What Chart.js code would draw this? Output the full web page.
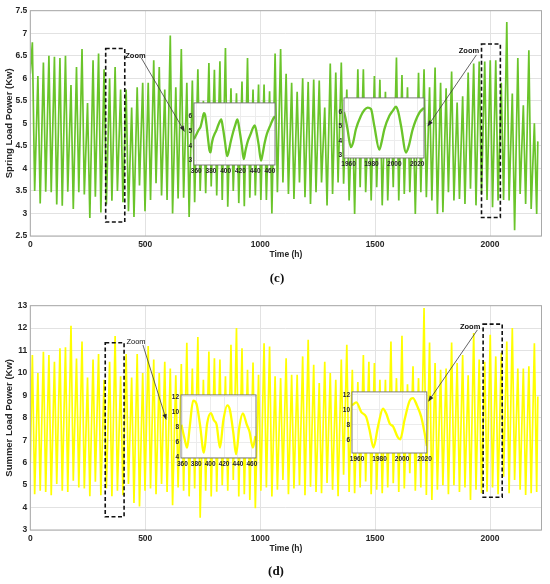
<!DOCTYPE html>
<html><head><meta charset="utf-8">
<script src="https://cdn.jsdelivr.net/npm/chart.js@4.4.0/dist/chart.umd.min.js"></script>
<style>
html,body{margin:0;padding:0;background:#fff;}
#wrap{position:relative;width:550px;height:584px;overflow:hidden;background:#fff;}
canvas{position:absolute;display:block;}
</style></head><body>
<div id="wrap">
<canvas id="springMain" width="550" height="290" style="left:0;top:0"></canvas>
<canvas id="summerMain" width="550" height="294" style="left:0;top:290px"></canvas>
<canvas id="springIn1"></canvas>
<canvas id="springIn2"></canvas>
<canvas id="summerIn1"></canvas>
<canvas id="summerIn2"></canvas>
</div>
<script>
// ---------------- DATA ----------------
const hourTicks = [0, 500, 1000, 1500, 2000];
const springTicks = [2.5, 3, 3.5, 4, 4.5, 5, 5.5, 6, 6.5, 7, 7.5];
const summerTicks = [3, 4, 5, 6, 7, 8, 9, 10, 11, 12, 13];

const peakHours = [9,33,57,81,105,129,153,177,201,225,249,273,297,321,345,369,393,417,441,465,489,513,537,561,585,609,633,657,681,705,729,753,777,801,825,849,873,897,921,945,969,993,1017,1041,1065,1089,1113,1137,1161,1185,1209,1233,1257,1281,1305,1329,1353,1377,1401,1425,1449,1473,1497,1521,1545,1569,1593,1617,1641,1665,1689,1713,1737,1761,1785,1809,1833,1857,1881,1905,1929,1953,1977,2001,2025,2049,2073,2097,2121,2145,2169,2193];
const troughHours = [19,43,67,91,115,139,163,187,211,235,259,283,307,331,355,379,403,427,451,475,499,523,547,571,595,619,643,667,691,715,739,763,787,811,835,859,883,907,931,955,979,1003,1027,1051,1075,1099,1123,1147,1171,1195,1219,1243,1267,1291,1315,1339,1363,1387,1411,1435,1459,1483,1507,1531,1555,1579,1603,1627,1651,1675,1699,1723,1747,1771,1795,1819,1843,1867,1891,1915,1939,1963,1987,2011,2035,2059,2083,2107,2131,2155,2179,2203];
const firstHour = 0, lastHour = 2208;

const springStart = 6.1, springEnd = 4.6;
const springPeaks = [6.8,6.05,6.35,6.5,6.48,6.45,6.5,5.85,6.25,6.65,
  5.45,6.4,6.55,6.2,6.0,6.25,5.75,5.75,5.35,5.8,
  5.9,5.9,6.4,6.25,5.75,6.95,5.8,6.65,5.9,5.95,
  6.2,5.5,6.34,6.19,6.38,6.67,5.78,5.67,5.93,6.45,
  5.75,5.86,5.86,5.71,6.55,6.65,6.1,5.9,5.7,6.0,
  5.92,5.97,5.95,5.35,6.33,6.13,6.35,5.75,5.4,6.2,
  6.2,5.5,6.05,5.97,5.7,5.5,6.46,6.07,5.8,5.4,
  6.12,6.2,5.8,6.24,5.9,5.78,6.15,5.46,5.6,6.13,
  6.33,6.37,6.37,6.4,6.4,5.9,7.25,5.66,6.45,5.4,
  6.62,5.0];
const springTroughs = [3.5,3.22,3.48,3.47,3.2,3.17,3.48,3.1,3.47,3.42,
  2.9,3.37,3.02,3.2,3.28,3.5,3.25,3.05,2.92,3.62,
  3.05,3.3,3.67,3.4,3.3,3.0,3.33,3.35,2.92,3.25,
  3.5,3.45,3.6,3.4,3.3,3.15,3.5,3.23,3.16,3.35,
  3.4,3.3,3.3,3.0,3.47,3.69,3.43,3.32,3.69,3.36,
  3.21,3.47,3.69,3.18,3.43,3.69,3.66,3.29,2.99,3.58,
  3.47,3.29,3.58,3.18,3.29,3.58,3.29,3.43,3.47,2.99,
  3.47,3.36,3.29,2.99,3.03,3.47,3.29,3.32,3.21,3.55,
  3.18,3.43,3.3,3.14,3.29,3.3,3.29,2.63,3.43,3.21,
  3.1,2.99];

const summerStart = 6.0, summerEnd = 8.95;
const summerPeaks = [10.8,10.0,10.95,10.8,10.5,11.1,11.15,12.1,10.65,11.4,
  9.8,10.6,10.85,9.7,10.5,11.65,9.85,10.85,9.8,10.85,
  10.0,11.2,10.6,10.0,10.5,10.2,9.9,10.4,11.35,10.2,
  11.6,9.7,10.96,10.66,10.6,9.85,11.26,12.0,11.1,10.14,
  10.47,9.92,11.33,11.18,9.85,9.77,10.66,9.92,9.92,10.74,
  11.48,10.37,9.55,10.5,10.0,9.7,10.6,11.26,10.14,9.6,
  10.8,10.5,10.45,9.7,9.7,11.4,9.77,11.66,9.5,10.3,
  9.77,12.9,11.36,10.45,10.14,10.2,11.36,10.45,10.8,9.9,
  11.78,10.6,10.5,11.7,10.74,10.9,11.4,12.0,10.2,10.2,
  10.3,11.33];
const summerTroughs = [4.6,4.75,4.7,4.55,5.05,4.75,4.7,5.2,4.9,4.85,
  4.5,5.15,4.55,4.85,4.5,4.75,4.55,5.05,4.2,4.05,
  4.75,4.85,4.6,5.05,4.7,4.1,4.9,4.75,4.5,4.85,
  3.55,4.75,4.49,4.71,5.0,4.75,5.23,4.49,4.6,4.34,
  3.97,4.75,4.9,4.49,4.8,5.23,4.6,4.85,5.0,4.55,
  4.93,4.7,4.64,5.1,4.79,4.5,5.46,4.7,4.64,4.9,
  5.16,4.6,4.8,4.64,4.9,5.08,4.7,4.85,5.53,4.75,
  4.9,4.56,4.34,4.8,5.0,4.6,5.0,4.7,4.9,4.34,
  4.8,4.64,4.71,4.9,4.6,5.38,4.64,5.23,4.8,4.56,
  4.64,4.7];

// zoomed windows
const springZoom1Hours = [357,360,363,366,368,370.5,372,374,376,378,379.5,381,383,385,387,390,394,396,399,402,404,407,410,413,416,419,422,424.5,427,430,434,437,439.5,442,445,448,450,453,456,460,464.5,467];
const springZoom1Load  = [4.45,4.75,5.05,5.3,5.7,6.2,6.1,5.4,4.5,3.7,3.55,4.1,4.55,4.8,5.0,5.4,5.78,5.3,4.3,3.3,3.6,4.3,4.9,5.4,5.78,5.0,4.0,3.1,3.7,4.3,4.8,5.2,5.38,4.9,4.0,3.0,3.4,4.2,4.8,5.3,5.82,6.0];
const springZoom2Hours = [1956,1957.5,1959.1,1962,1964,1966.4,1970.8,1974,1976.7,1979.6,1982.5,1986.9,1989,1991.3,1995.7,1998.6,2001.5,2003.5,2005.9,2010.3,2012.5,2016.1,2022,2026];
const springZoom2Load  = [6.0,5.5,4.8,3.57,3.9,4.8,5.73,6.15,6.3,6.2,5.05,3.4,3.95,4.8,5.73,6.07,6.36,6.0,5.05,3.2,3.6,4.8,5.95,6.28];
const summerZoom1Hours = [358.6,363.4,366.8,370.6,375.5,380.3,385.1,391,395.7,401,405.4,409.3,414.1,419,424.7,428.6,433.4,437.3,442.1,447,452.8,456.6,461.4,465.3];
const summerZoom1Load  = [8.3,6.35,5.27,8.06,11.5,11.07,8.5,4.6,8.5,9.85,8.9,8.3,5.27,8.9,10.86,10.2,7.2,4.4,8.06,9.8,8.3,7.4,5.27,6.8];
const summerZoom2Hours = [1955.5,1959.4,1963.8,1968,1971,1974.6,1978.6,1983,1986,1989,1992,1996.4,1998.4,2002.2,2006.7,2009.7,2013.2,2017,2020,2022];
const summerZoom2Load  = [10.6,11.0,9.7,9.1,7.4,5.0,7.8,10.15,9.5,8.2,7.8,6.3,6.1,8.66,11.2,11.57,10.6,9.1,6.95,5.2];
const zoomHourTicks1 = [360, 380, 400, 420, 440, 460];
const zoomHourTicks2 = [1960, 1980, 2000, 2020];
const springZoomTicks = [3, 4, 5, 6];
const summerZoomTicks1 = [4, 6, 8, 10, 12];
const summerZoomTicks2 = [6, 8, 10, 12];

// annotations (data coordinates)
const springBoxes = [[328, 411, 2.81, 6.66], [1963, 2045, 2.91, 6.76]];
const springLabels = [[413, 6.49, true], [1864, 6.61, true]];
const springArrows = [[483, 6.45, 672, 4.81], [1941, 6.52, 1728, 4.93]];
const summerBoxes = [[326, 408, 3.59, 11.35], [1970, 2053, 4.46, 12.18]];
const summerLabels = [[418, 11.4, false], [1869, 12.06, true]];
const summerArrows = [[490, 11.25, 592, 7.9], [1945, 11.92, 1731, 8.72]];

// ---------------- RENDER ----------------
const SPRING = '#6ac42a', SUMMER = '#ffff00';
const FONT = 'Liberation Sans, Arial, sans-serif';
const TXT = '#262626';

function buildSeries(start, peaks, troughs, end) {
  const pts = [{x: firstHour, y: start}];
  for (let k = 0; k < peakHours.length; k++) {
    pts.push({x: peakHours[k], y: peaks[k]});
    pts.push({x: troughHours[k], y: troughs[k]});
  }
  pts.push({x: lastHour, y: end});
  return pts;
}
function pairs(xs, ys) { return xs.map((x, i) => ({x, y: ys[i]})); }
function fixTicks(arr) { return s => { s.ticks = arr.map(v => ({value: v})); }; }

const overlay = {
  id: 'overlay',
  afterDatasetsDraw(chart, args, o) {
    const {ctx, chartArea: a, scales: {x, y}} = chart;
    ctx.save();
    ctx.strokeStyle = '#a9a9a9'; ctx.lineWidth = 1;
    ctx.strokeRect(a.left, a.top, a.width, a.height);
    ctx.strokeStyle = '#111'; ctx.lineWidth = 1.6; ctx.setLineDash([4, 2.5]);
    for (const b of o.boxes) {
      const x0 = x.getPixelForValue(b[0]), x1 = x.getPixelForValue(b[1]);
      const y0 = y.getPixelForValue(b[3]), y1 = y.getPixelForValue(b[2]);
      ctx.strokeRect(x0, y0, x1 - x0, y1 - y0);
    }
    ctx.setLineDash([]);
    ctx.strokeStyle = '#3c3c3c'; ctx.fillStyle = '#2a2a2a'; ctx.lineWidth = 0.8;
    for (const r of o.arrows) {
      const x0 = x.getPixelForValue(r[0]), y0 = y.getPixelForValue(r[1]);
      const x1 = x.getPixelForValue(r[2]), y1 = y.getPixelForValue(r[3]);
      const ang = Math.atan2(y1 - y0, x1 - x0);
      ctx.beginPath(); ctx.moveTo(x0, y0); ctx.lineTo(x1 - 4 * Math.cos(ang), y1 - 4 * Math.sin(ang)); ctx.stroke();
      ctx.beginPath();
      ctx.moveTo(x1, y1);
      ctx.lineTo(x1 - 6 * Math.cos(ang) + 2.2 * Math.sin(ang), y1 - 6 * Math.sin(ang) - 2.2 * Math.cos(ang));
      ctx.lineTo(x1 - 6 * Math.cos(ang) - 2.2 * Math.sin(ang), y1 - 6 * Math.sin(ang) + 2.2 * Math.cos(ang));
      ctx.closePath(); ctx.fill();
    }
    ctx.fillStyle = '#111'; ctx.textAlign = 'left'; ctx.textBaseline = 'middle';
    for (const l of o.labels) {
      ctx.font = (l[2] ? 'bold ' : '') + '7.5px ' + FONT;
      ctx.fillText('Zoom', x.getPixelForValue(l[0]), y.getPixelForValue(l[1]));
    }
    ctx.restore();
  },
  afterDraw(chart, args, o) {
    const ctx = chart.ctx;
    ctx.save();
    ctx.fillStyle = '#111'; ctx.font = 'bold 13px "Liberation Serif", "DejaVu Serif", serif';
    ctx.textAlign = 'center'; ctx.textBaseline = 'middle';
    ctx.fillText(o.panel, o.px, o.py);
    ctx.restore();
  }
};

function mainChart(id, pts, color, yMin, yMax, yTicks, yTitle, top, bottomPad, notes) {
  return new Chart(document.getElementById(id), {
    type: 'line',
    data: {datasets: [{data: pts, borderColor: color, borderWidth: 1.7, pointRadius: 0, tension: 0, fill: false}]},
    options: {
      responsive: false, animation: false, events: [], parsing: false,
      layout: {padding: {left: 0, top: top, right: 8.5, bottom: bottomPad}},
      plugins: {legend: {display: false}, tooltip: {enabled: false}, overlay: notes},
      scales: {
        x: {type: 'linear', min: 0, max: 2224, afterBuildTicks: fixTicks(hourTicks),
            afterFit: s => { s.height = 26; },
            grid: {color: '#e2e2e2', drawTicks: false}, border: {display: false},
            ticks: {padding: 4, autoSkip: false, maxRotation: 0, color: TXT, font: {family: FONT, size: 8.5, weight: 'bold'}, callback: v => String(v)},
            title: {display: true, text: 'Time (h)', color: TXT, font: {family: FONT, size: 8.5, weight: 'bold'}, padding: {top: 0, bottom: 2}}},
        y: {type: 'linear', min: yMin, max: yMax, afterBuildTicks: fixTicks(yTicks),
            afterFit: s => { s.width = 30.3; },
            grid: {color: '#e2e2e2', drawTicks: false}, border: {display: false},
            ticks: {padding: 3, autoSkip: false, color: TXT, font: {family: FONT, size: 8.5, weight: 'bold'}, callback: v => String(v)},
            title: {display: true, text: yTitle, color: TXT, font: {family: FONT, size: 9.5, weight: 'bold'}, padding: {top: 4, bottom: 0}}}
      }
    },
    plugins: [overlay]
  });
}

const insetFrame = {
  id: 'insetFrame',
  beforeDraw(chart) {
    const {ctx, chartArea: a} = chart;
    ctx.save(); ctx.fillStyle = '#fff'; ctx.fillRect(a.left, a.top, a.width, a.height); ctx.restore();
  },
  afterDraw(chart) {
    const {ctx, chartArea: a} = chart;
    ctx.save(); ctx.strokeStyle = '#6e6e6e'; ctx.lineWidth = 0.9;
    ctx.strokeRect(a.left, a.top, a.width, a.height); ctx.restore();
  }
};

function insetChart(id, box, xr, xt, yr, yt, pts, color) {
  const yW = 15, pT = 5, pR = 7, xH = 11;
  const cv = document.getElementById(id);
  cv.width = box[2] - box[0] + yW + pR;
  cv.height = box[3] - box[1] + pT + xH;
  cv.style.left = (box[0] - yW) + 'px';
  cv.style.top = (box[1] - pT) + 'px';
  const tf = {family: FONT, size: 6.5, weight: 'bold'};
  return new Chart(cv, {
    type: 'line',
    data: {datasets: [{data: pts, borderColor: color, borderWidth: 2.3, pointRadius: 0, tension: 0.4, cubicInterpolationMode: 'monotone', fill: false}]},
    options: {
      responsive: false, animation: false, events: [], parsing: false,
      layout: {padding: {left: 0, top: pT, right: pR, bottom: 0}},
      plugins: {legend: {display: false}, tooltip: {enabled: false}},
      scales: {
        x: {type: 'linear', min: xr[0], max: xr[1], afterBuildTicks: fixTicks(xt), afterFit: s => { s.height = xH; },
            grid: {color: '#ececec', drawTicks: false}, border: {display: false},
            ticks: {padding: 2, autoSkip: false, maxRotation: 0, color: TXT, font: tf, callback: v => String(v)}},
        y: {type: 'linear', min: yr[0], max: yr[1], afterBuildTicks: fixTicks(yt), afterFit: s => { s.width = yW; },
            grid: {color: '#ececec', drawTicks: false}, border: {display: false},
            ticks: {padding: 2, autoSkip: false, color: TXT, font: tf, callback: v => String(v)}}
      }
    },
    plugins: [insetFrame]
  });
}

mainChart('springMain', buildSeries(springStart, springPeaks, springTroughs, springEnd), SPRING,
  2.5, 7.5, springTicks, 'Spring Load Power (Kw)', 10.7, 28,
  {boxes: springBoxes, labels: springLabels, arrows: springArrows, panel: '(c)', px: 277, py: 279});
mainChart('summerMain', buildSeries(summerStart, summerPeaks, summerTroughs, summerEnd), SUMMER,
  3, 13, summerTicks, 'Summer Load Power (Kw)', 15.7, 28,
  {boxes: summerBoxes, labels: summerLabels, arrows: summerArrows, panel: '(d)', px: 276, py: 282});

insetChart('springIn1', [194, 102, 275, 165], [357, 467], zoomHourTicks1, [2.7, 6.9], springZoomTicks, pairs(springZoom1Hours, springZoom1Load), SPRING);
insetChart('springIn2', [344, 97, 424, 158], [1956, 2026], zoomHourTicks2, [2.82, 6.97], springZoomTicks, pairs(springZoom2Hours, springZoom2Load), SPRING);
insetChart('summerIn1', [181, 394, 256, 458], [358, 466], zoomHourTicks1, [3.9, 12.25], summerZoomTicks1, pairs(summerZoom1Hours, summerZoom1Load), SUMMER);
insetChart('summerIn2', [352, 391, 427, 453], [1955.5, 2022], zoomHourTicks2, [4.27, 12.39], summerZoomTicks2, pairs(summerZoom2Hours, summerZoom2Load), SUMMER);
</script>
</body></html>
